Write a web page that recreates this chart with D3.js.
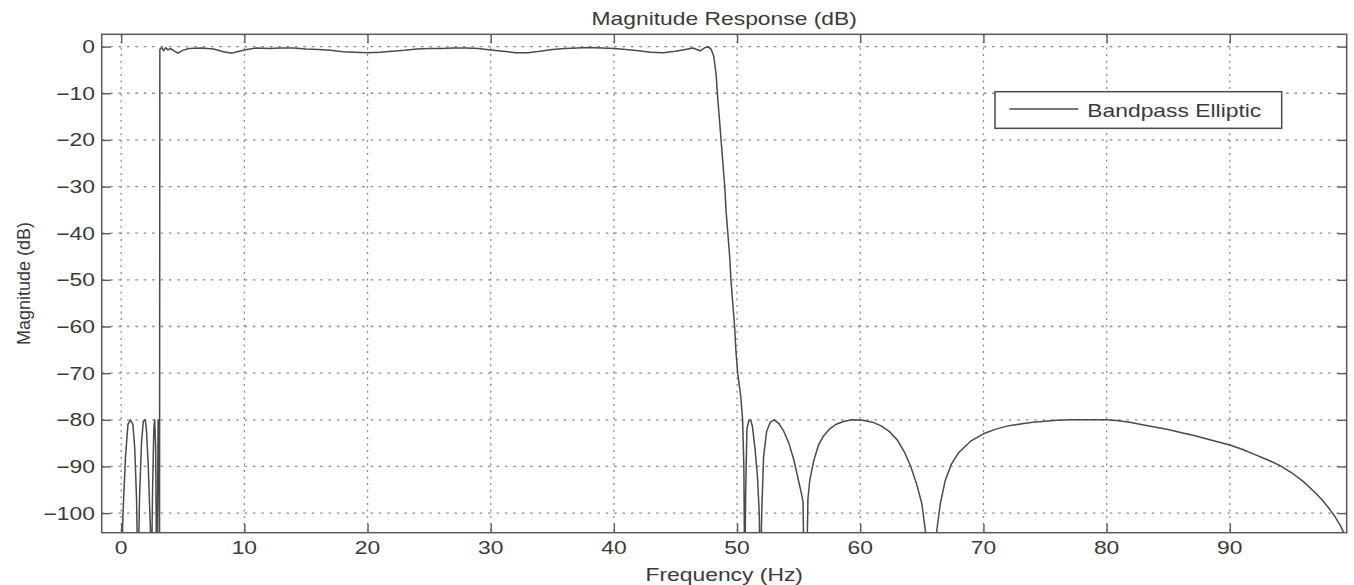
<!DOCTYPE html>
<html>
<head>
<meta charset="utf-8">
<script src="https://cdn.jsdelivr.net/npm/d3@7"></script>
<style>
  html, body { margin: 0; padding: 0; background: #fff; }
  svg { display: block; }
  text { font-family: "Liberation Sans", Arial, Helvetica, sans-serif; fill: #3a3a3a; }
</style>
</head>
<body>
<svg id="chart" width="1354" height="585"></svg>
<script>
// Magnitude response of a bandpass elliptic filter (frequency in Hz, magnitude in dB)
const freqHz = [
  0.00, 0.15, 0.35, 0.55, 0.75, 0.95, 1.10, 1.25, 1.36, 1.50, 1.65, 1.80, 1.95, 2.05, 2.20, 2.38, 2.45,
  2.55, 2.65, 2.72, 2.80, 2.88, 2.96, 3.00, 3.03, 3.06, 3.08, 3.11, 3.14,
  3.30, 3.45, 3.60, 3.80, 4.00, 4.30, 4.60, 5.00, 5.50, 6.50, 7.50, 8.30, 9.00, 9.60, 10.2, 11.0,
  12.0, 13.0, 14.0, 15.0, 16.0, 17.0, 18.0, 19.0, 20.0, 21.0, 22.0, 23.0, 24.0, 25.0, 26.0, 27.0,
  28.0, 29.0, 30.0, 31.0, 32.0, 33.0, 34.0, 35.0, 36.0, 37.0, 38.0, 39.0, 40.0, 41.0, 42.0, 43.0,
  44.0, 45.0, 45.8, 46.4, 47.0, 47.4, 47.7, 47.9,
  48.1, 48.3, 48.4, 48.55, 48.7, 48.85, 49.0, 49.1, 49.25, 49.4, 49.5, 49.65, 49.8, 49.9, 50.05,
  50.3, 50.45, 50.55, 50.62,
  50.70, 50.80, 50.95, 51.10, 51.25, 51.45, 51.65, 51.80, 51.90,
  52.00, 52.15, 52.40, 52.70, 53.00, 53.40, 53.80, 54.20, 54.60, 54.90, 55.20, 55.35, 55.55,
  55.75, 55.90, 56.20, 56.60, 57.00, 57.50, 58.00, 58.70, 59.40, 60.20, 61.00, 61.70, 62.40, 63.00,
  63.60, 64.10, 64.60, 65.00, 65.30, 65.70,
  66.20, 66.50, 66.90, 67.40, 68.00, 69.00, 70.0, 71.0, 72.0, 73.0, 74.0, 75.0, 76.0, 77.0, 78.0,
  79.0, 80.0, 81.0, 82.0, 83.0, 84.0, 85.0, 86.0, 87.0, 88.0, 89.0, 90.0, 91.0, 92.0, 93.0, 94.0,
  95.0, 96.0, 97.0, 97.5, 98.0, 98.5, 99.0, 99.3
];
const magnitudeDb = [
  -115, -100, -88, -81, -80, -81, -86, -97, -115, -96, -85, -80.3, -80, -82, -90, -104, -115,
  -95, -82, -80, -86, -115, -96, -80, -95, -81, -90, -130, -0.6,
  -0.2, -0.9, -0.2, -0.7, -0.4, -0.9, -1.4, -0.8, -0.4, -0.3, -0.5, -1.1, -1.4, -1.0, -0.6, -0.3,
  -0.4, -0.3, -0.3, -0.5, -0.6, -0.8, -1.1, -1.2, -1.3, -1.2, -1.0, -0.8, -0.5, -0.4, -0.4, -0.3,
  -0.3, -0.4, -0.7, -1.0, -1.3, -1.3, -1.0, -0.6, -0.4, -0.3, -0.2, -0.3, -0.4, -0.6, -0.9, -1.2,
  -1.3, -1.0, -0.6, -0.3, -0.9, -0.2, -0.1, -0.6,
  -2, -6, -10, -15, -20, -25, -30, -35, -40, -45, -50, -55, -60, -65, -70,
  -75, -80, -90, -115,
  -95, -82, -80.2, -80, -81.5, -86, -92, -100, -115,
  -100, -88, -82.5, -80.5, -80, -80.8, -82.5, -85, -88.5, -92, -95.5, -97.5, -130,
  -97, -93, -89, -85.5, -83.5, -82, -81, -80.3, -80, -80.1, -80.5, -81.3, -82.6, -84.3,
  -87, -90, -94, -98, -104, -130,
  -104, -98, -93, -89.5, -87, -84.5, -83, -82, -81.3, -80.9, -80.5, -80.3, -80.1, -80, -80,
  -80, -80, -80.2, -80.6, -81.1, -81.6, -82.1, -82.7, -83.3, -84, -84.7, -85.4, -86.3, -87.4, -88.5, -89.7,
  -91.3, -93.3, -95.8, -97.2, -98.8, -100.6, -102.8, -104.5
];
const xTickValues = [0, 10, 20, 30, 40, 50, 60, 70, 80, 90];
const yTickValues = [0, -10, -20, -30, -40, -50, -60, -70, -80, -90, -100];
const chartTitle = "Magnitude Response (dB)";
const xAxisTitle = "Frequency (Hz)";
const yAxisTitle = "Magnitude (dB)";
const seriesName = "Bandpass Elliptic";

const svg = d3.select("#chart");
const plot = { left: 101.7, right: 1346.7, top: 34.3, bottom: 532.7 };
const textStretch = 1.27;   // wide, Helvetica-like lettering
const fontPx = 18;

const x = d3.scaleLinear().domain([-1.58, 99.49]).range([plot.left, plot.right]);
const y = d3.scaleLinear().domain([-104.2, 2.64]).range([plot.bottom, plot.top]);

const minus = s => String(s).replace("-", "\u2212");

// plotting area background
svg.append("rect")
  .attr("x", plot.left).attr("y", plot.top)
  .attr("width", plot.right - plot.left).attr("height", plot.bottom - plot.top)
  .attr("fill", "#fff");

svg.append("clipPath").attr("id", "plotClip")
  .append("rect")
  .attr("x", plot.left).attr("y", plot.top)
  .attr("width", plot.right - plot.left).attr("height", plot.bottom - plot.top);

// dotted grid
const grid = svg.append("g").attr("class", "grid");
grid.selectAll("line.gx").data(xTickValues).join("line")
  .attr("class", "gx")
  .attr("x1", d => x(d)).attr("x2", d => x(d))
  .attr("y1", plot.top).attr("y2", plot.bottom)
  .attr("stroke", "#8a8a8a").attr("stroke-width", 1.3)
  .attr("stroke-dasharray", "2,4.6");
grid.selectAll("line.gy").data(yTickValues).join("line")
  .attr("class", "gy")
  .attr("x1", plot.left).attr("x2", plot.right)
  .attr("y1", d => y(d)).attr("y2", d => y(d))
  .attr("stroke", "#8a8a8a").attr("stroke-width", 1.3)
  .attr("stroke-dasharray", "2.6,5.8");

// response curve
const points = freqHz.map((f, i) => [f, magnitudeDb[i]]);
svg.append("path")
  .datum(points)
  .attr("clip-path", "url(#plotClip)")
  .attr("fill", "none")
  .attr("stroke", "#4a4a4a")
  .attr("stroke-width", 1.5)
  .attr("stroke-linejoin", "round")
  .attr("d", d3.line().x(d => x(d[0])).y(d => y(d[1])));

// axes with inward ticks on all four sides
const tickLen = 9;
const axisColor = "#5a5a5a";
function styleAxis(g) {
  g.select(".domain").remove();
  g.selectAll(".tick line").attr("stroke", axisColor).attr("stroke-width", 1.4);
}
svg.append("g").attr("transform", `translate(0,${plot.bottom})`)
  .call(d3.axisBottom(x).tickValues(xTickValues).tickSizeInner(-tickLen).tickSizeOuter(0).tickFormat(() => ""))
  .call(styleAxis);
svg.append("g").attr("transform", `translate(0,${plot.top})`)
  .call(d3.axisTop(x).tickValues(xTickValues).tickSizeInner(-tickLen).tickSizeOuter(0).tickFormat(() => ""))
  .call(styleAxis);
svg.append("g").attr("transform", `translate(${plot.left},0)`)
  .call(d3.axisLeft(y).tickValues(yTickValues).tickSizeInner(-tickLen).tickSizeOuter(0).tickFormat(() => ""))
  .call(styleAxis);
svg.append("g").attr("transform", `translate(${plot.right},0)`)
  .call(d3.axisRight(y).tickValues(yTickValues).tickSizeInner(-tickLen).tickSizeOuter(0).tickFormat(() => ""))
  .call(styleAxis);

// frame
svg.append("rect")
  .attr("x", plot.left).attr("y", plot.top)
  .attr("width", plot.right - plot.left).attr("height", plot.bottom - plot.top)
  .attr("fill", "none").attr("stroke", axisColor).attr("stroke-width", 1.5);

// stretched text helper: anchor point stays fixed
function label(px, py, str, anchor, size) {
  return svg.append("text")
    .attr("transform", `translate(${px},${py}) scale(${textStretch},1)`)
    .attr("text-anchor", anchor)
    .attr("font-size", size || fontPx)
    .text(str);
}

// tick labels
xTickValues.forEach(v => label(x(v), 553.5, v, "middle"));
yTickValues.forEach(v => label(95, y(v) + 6.5, minus(v), "end"));

// titles
label((plot.left + plot.right) / 2, 25, chartTitle, "middle");
label((plot.left + plot.right) / 2, 581, xAxisTitle, "middle");
svg.append("text")
  .attr("transform", `translate(30,${(plot.top + plot.bottom) / 2}) rotate(-90)`)
  .attr("text-anchor", "middle")
  .attr("font-size", fontPx)
  .text(yAxisTitle);

// legend
const legend = svg.append("g");
legend.append("rect")
  .attr("x", 995).attr("y", 91.7).attr("width", 286.7).attr("height", 36.6)
  .attr("fill", "#fff").attr("stroke", "#4a4a4a").attr("stroke-width", 1.5);
legend.append("line")
  .attr("x1", 1009.3).attr("x2", 1078.3).attr("y1", 109).attr("y2", 109)
  .attr("stroke", "#4a4a4a").attr("stroke-width", 1.5);
label(1087.3, 116.5, seriesName, "start");
</script>
</body>
</html>
